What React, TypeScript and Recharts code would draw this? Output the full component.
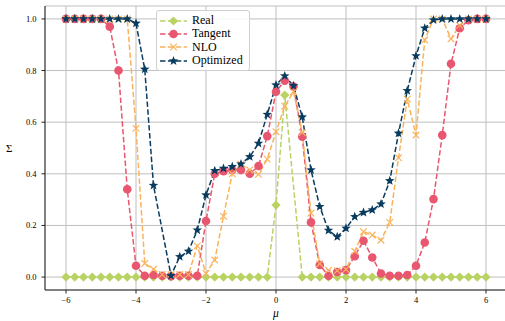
import React from "react"
import { LineChart, Line, XAxis, YAxis, CartesianGrid, Legend } from "recharts"

// sample points in mu (step 0.25)
const mu = [
  -6, -5.75, -5.5, -5.25, -5, -4.75, -4.5, -4.25, -4, -3.75,
  -3.5, -3.25, -3, -2.75, -2.5, -2.25, -2, -1.75, -1.5, -1.25,
  -1, -0.75, -0.5, -0.25, 0, 0.25, 0.5, 0.75, 1, 1.25,
  1.5, 1.75, 2, 2.25, 2.5, 2.75, 3, 3.25, 3.5, 3.75,
  4, 4.25, 4.5, 4.75, 5, 5.25, 5.5, 5.75, 6,
]

const real = [
  0, 0, 0, 0, 0, 0, 0, 0, 0, 0,
  0, 0, 0, 0, 0, 0, 0, 0, 0, 0,
  0, 0, 0, 0, 0.279, 0.705, null, 0, 0, 0,
  0, 0, 0, 0, 0, 0, 0, 0, 0, 0,
  0, 0, 0, 0, 0, 0, 0, 0, 0,
]

const tangent = [
  1, 1, 1, 1, 1, 0.97, 0.8, 0.34, 0.044, 0.005,
  0.008, 0.005, 0.003, 0.005, 0.005, 0.005, 0.217, 0.4, 0.41, 0.415,
  0.415, 0.4, 0.43, 0.546, 0.718, 0.761, 0.738, 0.544, 0.212, 0.047,
  0.005, 0.02, 0.027, 0.081, 0.141, 0.076, 0.014, 0.005, 0.005, 0.008,
  0.044, 0.134, 0.302, 0.55, 0.826, 0.964, 0.995, 1, 1,
]

const nlo = [
  1, 1, 1, 1, 1, 1, 1, 1, 0.576, 0.053,
  0.03, 0.01, 0.01, 0.01, 0.01, 0.121, 0.014, 0.066, 0.236, 0.4,
  0.437, 0.415, 0.398, 0.457, 0.563, 0.662, 0.718, 0.56, 0.248, 0.052,
  0.027, 0.025, 0.03, 0.1, 0.176, 0.163, 0.143, 0.212, 0.462, 0.689,
  0.55, 0.918, 1, 1, 0.923, 0.975, 1, 1, 1,
]

const optimized = [
  1, 1, 1, 1, 1, 1, 1, 1, 0.983, 0.805,
  0.355, null, 0.006, 0.079, 0.1, 0.182, 0.318, 0.412, 0.421, 0.428,
  0.438, 0.466, 0.518, 0.63, 0.744, 0.779, 0.741, 0.62, 0.415, 0.273,
  0.181, 0.156, 0.189, 0.234, 0.25, 0.26, 0.283, 0.373, 0.557, 0.722,
  0.857, 0.964, 0.996, 1, 1, 1, 1, 1, 1,
]

const xTicks = [-6, -4, -2, 0, 2, 4, 6]
const yTicks = [0, 0.2, 0.4, 0.6, 0.8, 1.0]

const data = mu.map((m, i) => ({
  mu: m,
  real: real[i],
  tangent: tangent[i],
  nlo: nlo[i],
  optimized: optimized[i],
}))

const FONT = "'Liberation Serif', 'DejaVu Serif', serif"
const DASH = "5.5 2.4"

type MarkerKind = "diamond" | "circle" | "x" | "star"

function Marker({ kind, cx, cy, color }: { kind: MarkerKind; cx: number; cy: number; color: string }) {
  if (kind === "diamond") {
    const r = 4.6
    return <polygon points={`${cx},${cy - r} ${cx + r},${cy} ${cx},${cy + r} ${cx - r},${cy}`} fill={color} />
  }
  if (kind === "circle") {
    return <circle cx={cx} cy={cy} r={4.3} fill={color} />
  }
  if (kind === "x") {
    const r = 3.3
    return (
      <g stroke={color} strokeWidth={1.2}>
        <line x1={cx - r} y1={cy - r} x2={cx + r} y2={cy + r} />
        <line x1={cx - r} y1={cy + r} x2={cx + r} y2={cy - r} />
      </g>
    )
  }
  const pts: string[] = []
  for (let k = 0; k < 10; k++) {
    const rad = k % 2 === 0 ? 5 : 2.1
    const a = -Math.PI / 2 + (k * Math.PI) / 5
    pts.push(`${cx + rad * Math.cos(a)},${cy + rad * Math.sin(a)}`)
  }
  return <polygon points={pts.join(" ")} fill={color} />
}

const series: { key: string; name: string; color: string; marker: MarkerKind }[] = [
  { key: "real", name: "Real", color: "#b9d363", marker: "diamond" },
  { key: "tangent", name: "Tangent", color: "#e8566f", marker: "circle" },
  { key: "nlo", name: "NLO", color: "#f9b35c", marker: "x" },
  { key: "optimized", name: "Optimized", color: "#083b5e", marker: "star" },
]

const makeDot = (kind: MarkerKind, color: string) => (props: any) => {
  const { cx, cy, index, value } = props
  if (value == null || cy == null || isNaN(cy)) return <g key={`e-${index}`} />
  return (
    <g key={`m-${index}`}>
      <Marker kind={kind} cx={cx} cy={cy} color={color} />
    </g>
  )
}

function LegendBox() {
  return (
    <div
      style={{
        background: "rgba(255,255,255,0.85)",
        border: "1px solid #d0d0d0",
        borderRadius: 3,
        padding: "3px 6px 3px 3px",
        fontFamily: FONT,
        fontSize: 12,
        lineHeight: "13.3px",
        color: "#000",
      }}
    >
      {series.map((s) => (
        <div key={s.key} style={{ display: "flex", alignItems: "center", height: 13.3 }}>
          <svg width={27} height={12} style={{ marginRight: 5 }}>
            <line x1={0} y1={6} x2={27} y2={6} stroke={s.color} strokeWidth={1.5} strokeDasharray={DASH} />
            <Marker kind={s.marker} cx={13.5} cy={6} color={s.color} />
          </svg>
          <span>{s.name}</span>
        </div>
      ))}
    </div>
  )
}

const fmtX = (v: number) => String(v).replace("-", "\u2212")

export default function App() {
  return (
    <div style={{ position: "absolute", left: 0, top: 0, width: 505, height: 321, overflow: "hidden", background: "#fff" }}>
      <LineChart width={512} height={321} data={data} margin={{ top: 6, right: 5, bottom: 0, left: 0 }}>
        <CartesianGrid stroke="#bfbfbf" strokeWidth={1} />
        <XAxis
          dataKey="mu"
          type="number"
          domain={[-6.6, 6.6]}
          ticks={xTicks}
          tickFormatter={fmtX}
          height={31}
          tickSize={3.5}
          tickMargin={3}
          stroke="#222"
          tick={{ fill: "#000", fontSize: 8.5, fontFamily: FONT }}
          label={{ value: "μ", position: "insideBottom", offset: 4, fill: "#000", fontSize: 11.5, fontStyle: "italic", fontFamily: FONT }}
        />
        <XAxis xAxisId="top" orientation="top" type="number" domain={[-6.6, 6.6]} tick={false} tickLine={false} height={0} stroke="#222" />
        <YAxis
          type="number"
          domain={[-0.05, 1.05]}
          ticks={yTicks}
          tickFormatter={(v: number) => v.toFixed(1)}
          width={45}
          tickSize={3.5}
          tickMargin={5}
          stroke="#222"
          tick={{ fill: "#000", fontSize: 8.5, fontFamily: FONT }}
          label={{ value: "Σ", position: "insideLeft", offset: 6, fill: "#000", fontSize: 11, fontFamily: FONT }}
        />
        <YAxis yAxisId="right" orientation="right" type="number" domain={[-0.05, 1.05]} tick={false} tickLine={false} width={0} stroke="#222" />
        <Legend
          layout="vertical"
          align="center"
          verticalAlign="middle"
          content={() => <LegendBox />}
          wrapperStyle={{ left: 156, top: 10, width: "auto", height: "auto" }}
        />
        {series.map((s) => (
          <Line
            key={s.key}
            dataKey={s.key}
            name={s.name}
            type="linear"
            stroke={s.color}
            strokeWidth={1.5}
            strokeDasharray={DASH}
            connectNulls
            dot={makeDot(s.marker, s.color)}
            activeDot={false}
            isAnimationActive={false}
          />
        ))}
      </LineChart>
    </div>
  )
}
